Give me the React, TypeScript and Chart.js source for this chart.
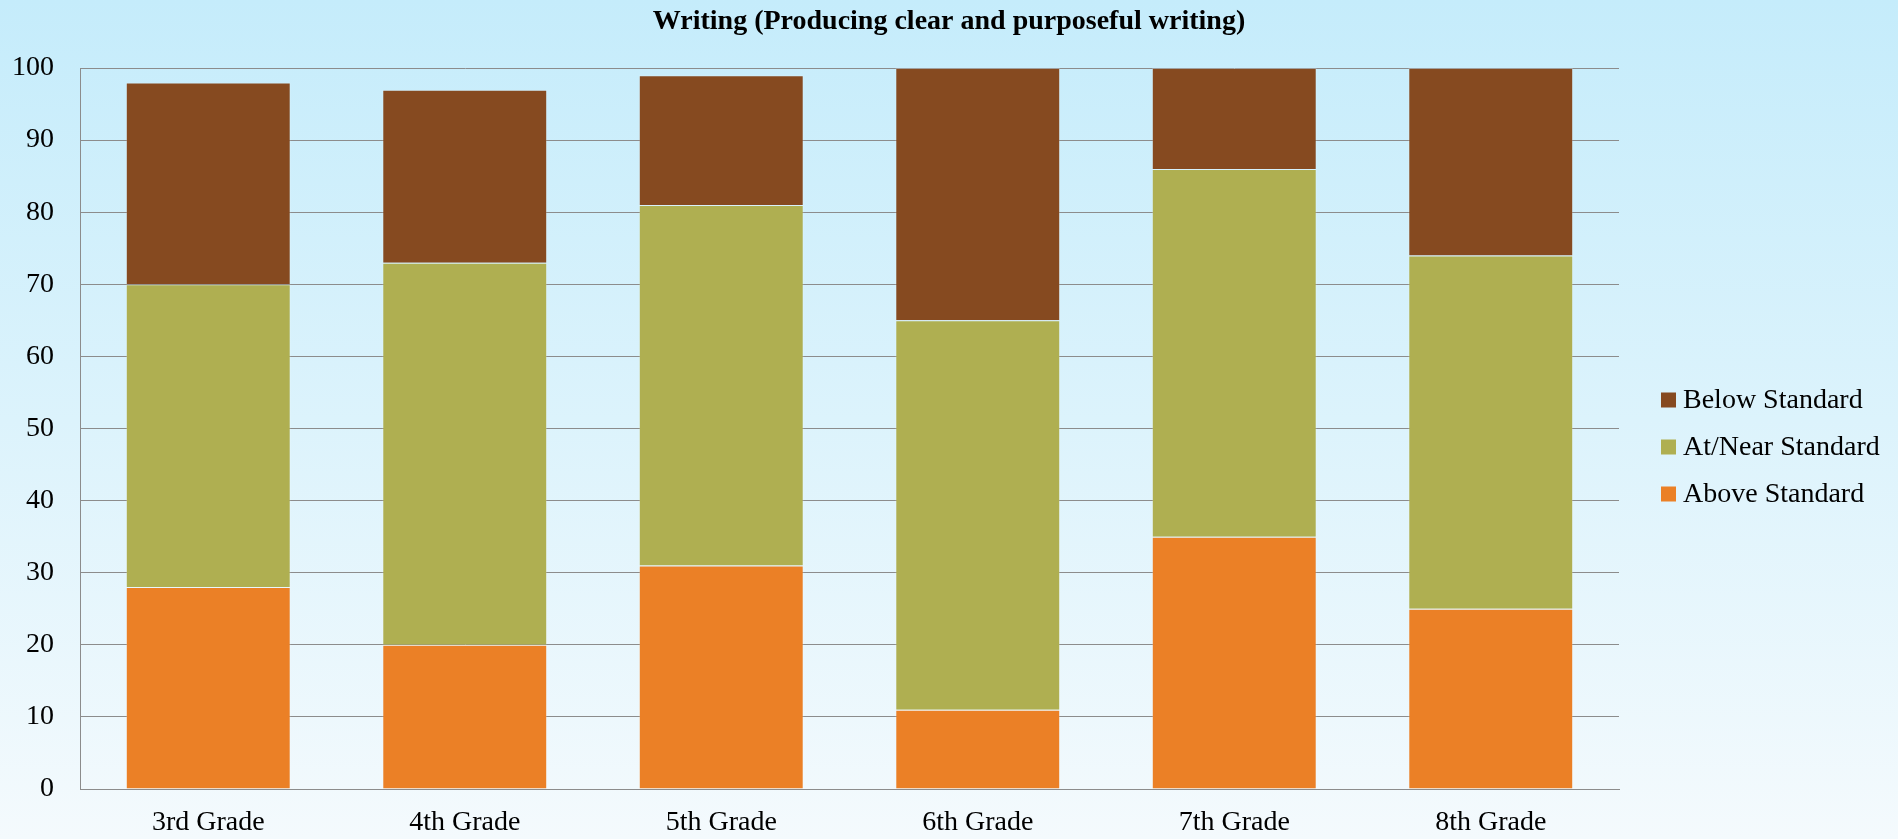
import React, { useEffect, useRef } from "react";
import { Chart, registerables } from "chart.js";

Chart.register(...registerables);

const categories = ["3rd Grade", "4th Grade", "5th Grade", "6th Grade", "7th Grade", "8th Grade"];
const aboveStandard = [28, 20, 31, 11, 35, 25];
const atNearStandard = [42, 53, 50, 54, 51, 49];
const belowStandard = [28, 24, 18, 35, 14, 26];
const titleText = "Writing (Producing clear and purposeful writing)";

const FONT = "'Liberation Serif', 'DejaVu Serif', serif";

const legendPlugin = {
  id: "customLegend",
  afterDraw(chart: any) {
    const ctx = chart.ctx;
    const ds = chart.data.datasets;
    const order = [2, 1, 0];
    const x0 = 1661;
    const ys = [400, 447, 494];
    ctx.save();
    ctx.font = `28px ${FONT}`;
    ctx.textBaseline = "middle";
    ctx.textAlign = "left";
    order.forEach((idx, i) => {
      ctx.fillStyle = ds[idx].backgroundColor;
      ctx.fillRect(x0, ys[i] - 7.5, 15, 15);
      ctx.fillStyle = "#000000";
      ctx.fillText(ds[idx].label, x0 + 22, ys[i] + 1);
    });
    ctx.font = `bold 28px ${FONT}`;
    ctx.textAlign = "center";
    ctx.fillText(titleText, chart.width / 2, 22);
    ctx.restore();
  },
};

export default function App() {
  const canvasRef = useRef<HTMLCanvasElement | null>(null);

  useEffect(() => {
    if (!canvasRef.current) return;
    const border = "rgba(255,255,255,0.18)";
    const chart = new Chart(canvasRef.current, {
      type: "bar",
      data: {
        labels: categories,
        datasets: [
          { label: "Above Standard", data: aboveStandard, backgroundColor: "#EB8026", borderColor: border, borderWidth: 1 },
          { label: "At/Near Standard", data: atNearStandard, backgroundColor: "#AFAF51", borderColor: border, borderWidth: 1 },
          { label: "Below Standard", data: belowStandard, backgroundColor: "#864A20", borderColor: border, borderWidth: 1 },
        ],
      },
      options: {
        animation: false,
        responsive: false,
        maintainAspectRatio: false,
        layout: { padding: { left: 0, right: 279, top: 68, bottom: 0 } },
        datasets: { bar: { categoryPercentage: 1, barPercentage: 0.643 } },
        plugins: {
          legend: { display: false },
          tooltip: { enabled: false },
          title: { display: false },
        },
        scales: {
          x: {
            stacked: true,
            grid: { display: false, drawTicks: false },
            border: { color: "#8C8C8C", width: 1 },
            ticks: { color: "#000000", font: { family: FONT, size: 28 }, padding: 17, maxRotation: 0 },
            afterFit: (s: any) => { s.height = 50; },
          },
          y: {
            stacked: true,
            min: 0,
            max: 100,
            ticks: { stepSize: 10, color: "#000000", font: { family: FONT, size: 28 }, padding: 26 },
            grid: { color: "#8C8C8C", lineWidth: 1, drawTicks: false },
            border: { color: "#8C8C8C", width: 1 },
            afterFit: (s: any) => { s.width = 80; },
          },
        },
      },
      plugins: [legendPlugin],
    });
    return () => chart.destroy();
  }, []);

  return (
    <div
      style={{
        position: "fixed",
        left: 0,
        top: 0,
        width: 1898,
        height: 839,
        background: "linear-gradient(to bottom, #C5ECFB 0%, #DCF3FC 50%, #F4FAFD 100%)",
      }}
    >
      <canvas ref={canvasRef} width={1898} height={839} style={{ display: "block", width: 1898, height: 839 }} />
    </div>
  );
}
